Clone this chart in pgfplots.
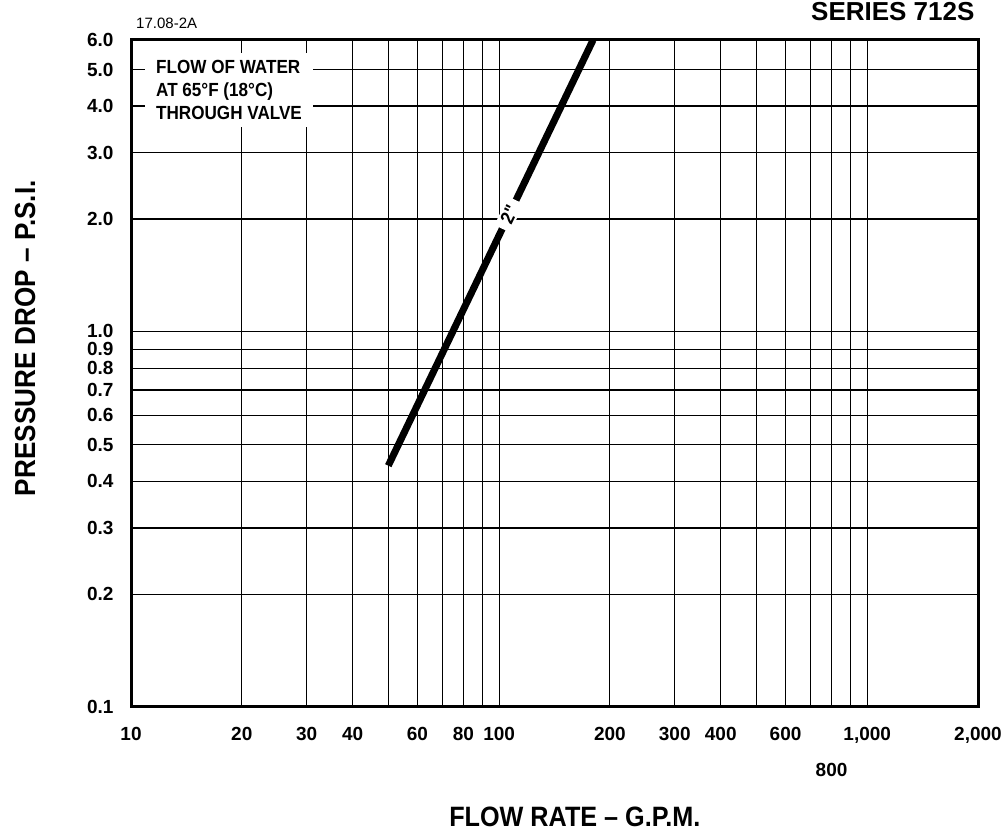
\documentclass[border=0pt]{standalone}
\usepackage{pgfplots}
\pgfplotsset{compat=1.18}
\usepackage{fontspec}
\setmainfont{Liberation Sans}
\newfontfamily\cond[FakeStretch=0.9]{Liberation Sans}
\begin{document}
\begin{tikzpicture}
\useasboundingbox (0,0) rectangle (1005pt,832pt);
\begin{axis}[
  at={(131pt,125pt)}, anchor=south west,
  scale only axis, width=847pt, height=667pt,
  xmode=log, ymode=log,
  xmin=10, xmax=2000, ymin=0.1, ymax=6,
  clip=false,
  xtick={10,20,30,40,60,80,100,200,300,400,600,1000,2000},
  xticklabels={10,20,30,40,60,80,100,200,300,400,600,{1,000},{2,000}},
  extra x ticks={800},
  extra x tick labels={800},
  extra x tick style={xticklabel style={yshift=-36pt}},
  minor xtick={50,70,90,500,700,900},
  ytick={0.1,0.2,0.3,0.4,0.5,0.6,0.7,0.8,0.9,1,2,3,4,5,6},
  yticklabels={0.1,0.2,0.3,0.4,0.5,0.6,{\raisebox{-3pt}{0.7}},{\raisebox{-2pt}{0.8}},{\raisebox{-1pt}{0.9}},{\raisebox{3pt}{1.0}},2.0,3.0,4.0,5.0,6.0},
  major tick length=0pt, minor tick length=0pt,
  xmajorgrids, xminorgrids, ymajorgrids,
  grid style={line width=1.1pt, black},
  major grid style={line width=1.1pt, black},
  minor grid style={line width=1.1pt, black},
  axis line style={line width=3pt},
  tick label style={font=\bfseries\fontsize{19}{19}\selectfont},
  xticklabel style={yshift=-17pt},
  yticklabel style={xshift=-14pt},
  xlabel={FLOW RATE – G.P.M.},
  xlabel style={at={(axis description cs:0.524,-0.165)}, anchor=center, font=\cond\bfseries\fontsize{28}{28}\selectfont},
  ylabel={PRESSURE DROP – P.S.I.},
  ylabel style={at={(axis description cs:-0.125,0.553)}, anchor=center, rotate=0, font=\cond\bfseries\fontsize{29}{29}\selectfont},
  title={SERIES 712S},
  title style={at={(axis description cs:1,1.0195)}, anchor=base east, font=\bfseries\fontsize{26}{26}\selectfont},
]
\addplot[line width=7pt, black] coordinates {(50,0.44) (180,6.0)}
  node[pos=0.59, sloped, fill=white, inner xsep=7pt, inner ysep=2pt, font=\cond\bfseries\fontsize{19}{19}\selectfont] {2"};
\node[fill=white, anchor=north west, inner xsep=11pt, inner ysep=7pt, align=left,
  font=\cond\bfseries\fontsize{19}{23}\selectfont] at (rel axis cs:0.0165,0.9805)
  {FLOW OF WATER\\AT 65°F (18°C)\\THROUGH VALVE};
\node[anchor=base west, font=\fontsize{15}{15}\selectfont] at (rel axis cs:0.002,1.0165) {17.08-2A};
\end{axis}
\end{tikzpicture}
\end{document}
